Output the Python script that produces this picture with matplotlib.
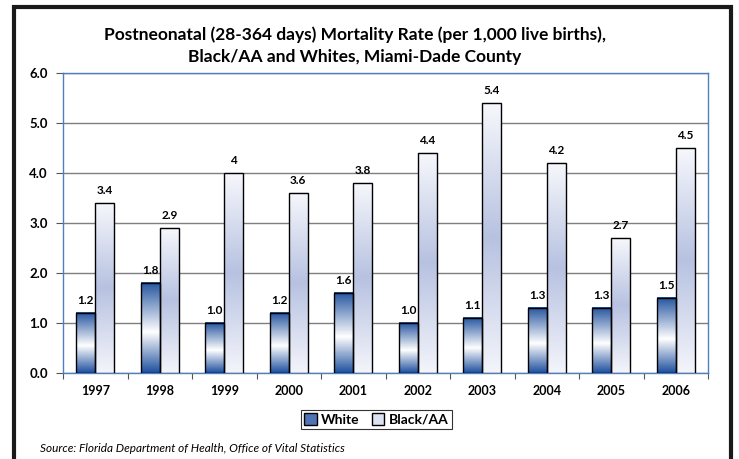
"""
Postneonatal mortality rate bar chart, Black/AA vs White, Miami-Dade.
"""

import numpy as np
import matplotlib
matplotlib.use('Agg')
import matplotlib.pyplot as plt
from matplotlib.colors import LinearSegmentedColormap
from matplotlib.patches import Rectangle

years = ['1997', '1998', '1999', '2000', '2001', '2002', '2003', '2004', '2005', '2006']
white = [1.2, 1.8, 1.0, 1.2, 1.6, 1.0, 1.1, 1.3, 1.3, 1.5]
black = [3.4, 2.9, 4.0, 3.6, 3.8, 4.4, 5.4, 4.2, 2.7, 4.5]
white_labels = ['1.2', '1.8', '1.0', '1.2', '1.6', '1.0', '1.1', '1.3', '1.3', '1.5']
black_labels = ['3.4', '2.9', '4', '3.6', '3.8', '4.4', '5.4', '4.2', '2.7', '4.5']
yticks = [0, 1, 2, 3, 4, 5, 6]

plt.rcParams['font.family'] = ['Lato', 'DejaVu Sans']

# vertical gradients (bottom -> top)
cm_white = LinearSegmentedColormap.from_list('w', [(0.0, '#1d4f9e'), (0.45, '#ffffff'), (1.0, '#24549f')])
cm_black = LinearSegmentedColormap.from_list('b', [(0.0, '#f4f5fb'), (0.5, '#b7c2e1'), (1.0, '#f7f8fc')])
grad = np.linspace(0, 1, 256).reshape(-1, 1)

fig = plt.figure(figsize=(7.39, 4.59), dpi=100)
ax = fig.add_axes([0.0853, 0.1874, 0.8728, 0.6536])

x = np.arange(len(years))
w = 0.295


def grad_bar(xl, h, cmap):
    ax.imshow(grad, cmap=cmap, origin='lower', aspect='auto',
              extent=[xl, xl + w, 0, h], zorder=3, interpolation='bilinear')
    ax.add_patch(Rectangle((xl, 0), w, h, fill=False, edgecolor='black', lw=1.0, zorder=4))


for i in range(len(years)):
    grad_bar(x[i] - w, white[i], cm_white)
    grad_bar(x[i], black[i], cm_black)
    ax.text(x[i] - w / 2, white[i] + 0.13, white_labels[i], ha='center', va='bottom',
            fontsize=8.5, fontweight='bold')
    ax.text(x[i] + w / 2, black[i] + 0.13, black_labels[i], ha='center', va='bottom',
            fontsize=8.5, fontweight='bold')

ax.set_xlim(-0.5, len(years) - 0.5)
ax.set_ylim(0, 6)
ax.set_yticks(yticks)
ax.set_yticklabels(['%.1f' % v for v in yticks], fontsize=9.5, fontweight='bold')
ax.set_xticks(np.arange(len(years) + 1) - 0.5)
ax.set_xticklabels([])
ax.set_xticks(x, minor=True)
ax.set_xticklabels(years, minor=True, fontsize=9, fontweight='bold')
ax.tick_params(axis='x', which='minor', length=0, pad=9)
ax.tick_params(axis='x', which='major', length=4, color='#555555', direction='out')
ax.tick_params(axis='y', length=5, color='#555555', direction='out', pad=6)
ax.yaxis.grid(True, color='#7f7f7f', lw=1.0, zorder=0)
ax.set_axisbelow(True)
for s in ax.spines.values():
    s.set_color('#4f7fbf')
    s.set_linewidth(1.0)

fig.text(0.48, 0.924, 'Postneonatal (28-364 days) Mortality Rate (per 1,000 live births),',
         ha='center', va='center', fontsize=12.5, fontweight='bold')
fig.text(0.48, 0.876, 'Black/AA and Whites, Miami-Dade County',
         ha='center', va='center', fontsize=12.5, fontweight='bold')

# legend with flat stand-ins for the gradient fills
h1 = Rectangle((0, 0), 1, 1, facecolor='#4e74b5', edgecolor='black')
h2 = Rectangle((0, 0), 1, 1, facecolor='#dde2f1', edgecolor='black')
leg = fig.legend([h1, h2], ['White', 'Black/AA'], loc='center', bbox_to_anchor=(0.509, 0.086),
                 ncol=2, fancybox=False, frameon=True, handlelength=0.9, handleheight=0.9,
                 handletextpad=0.3, columnspacing=0.9, borderpad=0.25,
                 prop={'weight': 'bold', 'size': 10})
leg.get_frame().set_edgecolor('black')
leg.get_frame().set_linewidth(0.8)

fig.text(0.054, 0.022, 'Source: Florida Department of Health, Office of Vital Statistics',
         ha='left', va='center', fontsize=8.5, style='italic')

# outer frame
fig.patches.append(Rectangle((0.0185, -0.05), 0.970, 1.034, transform=fig.transFigure,
                             fill=False, edgecolor='#1a1a1a', lw=3))

fig.savefig('out.png', dpi=100)
